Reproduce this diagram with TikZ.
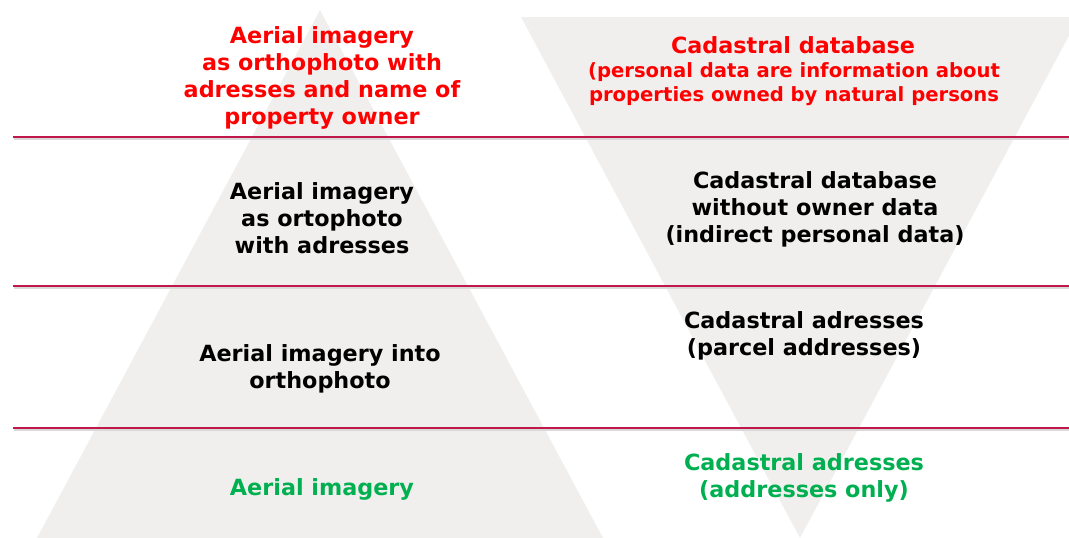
\documentclass[tikz,border=0pt]{standalone}
\usepackage{fontspec}
\setmainfont{DejaVu Sans}
\usetikzlibrary{positioning}

\definecolor{crimsonline}{HTML}{C0184A}
\definecolor{pyrgray}{HTML}{F0EFEE}
\definecolor{okgreen}{HTML}{00B050}

\begin{document}
\begin{tikzpicture}[
    x=1pt, y=-1pt,
    every node/.style={font=\bfseries\fontsize{22.3}{27}\selectfont, align=center},
    small/.style={font=\bfseries\fontsize{19.6}{24}\selectfont},
    level/.style={crimsonline, line width=2.2pt},
    levelshade/.style={black!15, line width=1.4pt}
]
    \useasboundingbox (0,0) rectangle (1069,538);
    \clip (0,0) rectangle (1069,538);

    % pyramid and inverted pyramid
    \fill[pyrgray] (320,10) -- (603,538) -- (37,538) -- cycle;
    \fill[pyrgray] (521,17) -- (1079,17) -- (800,538) -- cycle;

    % level separators
    \foreach \y in {137,286,428} {
        \draw[levelshade] (14,\y+1.8) -- (1069,\y+1.8);
        \draw[level] (13,\y) -- (1069,\y);
    }

    % left column
    \node[red] (air4) at (322,78) {Aerial imagery\\as orthophoto with\\adresses and name of\\property owner};
    \node (air3) at (322,218) {Aerial imagery\\as ortophoto\\with adresses};
    \node (air2) at (320,369) {Aerial imagery into\\orthophoto};
    \node[okgreen] (air1) at (322,489) {Aerial imagery};

    % right column
    \node[red] (cad4) at (793,45) {Cadastral database};
    \node[red, small] (cad4b) at (794,84) {(personal data are information about\\properties owned by natural persons};
    \node (cad3) at (815,209) {Cadastral database\\without owner data\\(indirect personal data)};
    \node (cad2) at (804,336) {Cadastral adresses\\(parcel addresses)};
    \node[okgreen] (cad1) at (804,478) {Cadastral adresses\\(addresses only)};
\end{tikzpicture}
\end{document}
